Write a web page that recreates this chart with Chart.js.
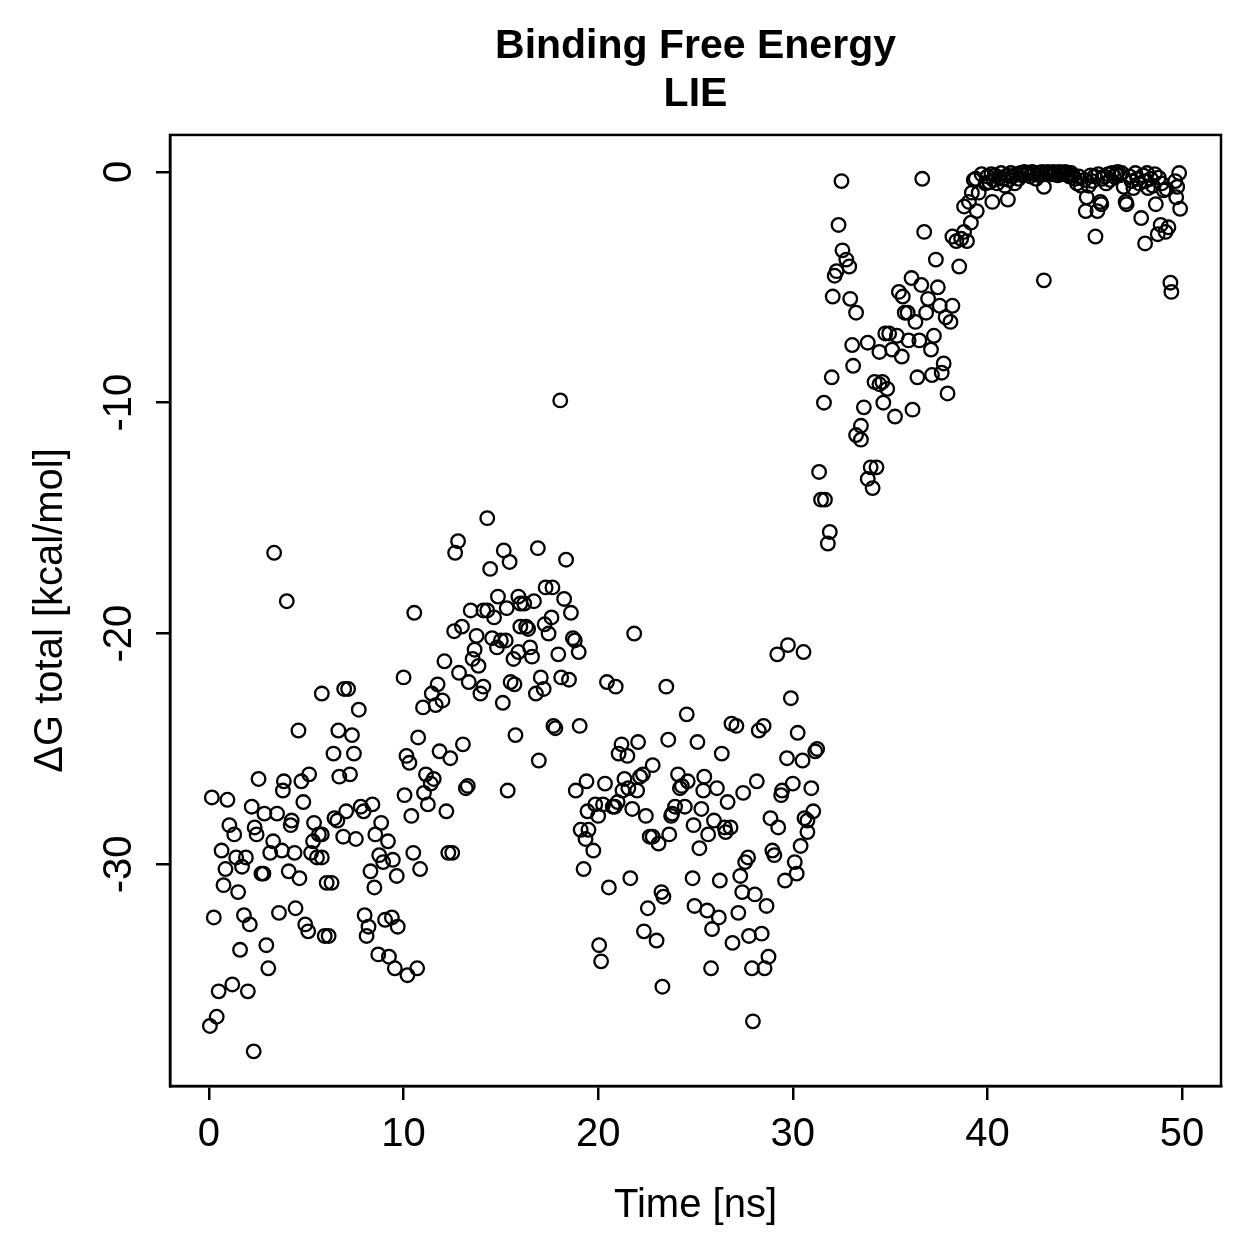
<!DOCTYPE html>
<html>
<head>
<meta charset="utf-8">
<script src="https://cdn.jsdelivr.net/npm/chart.js@4"></script>
<style>
  html, body { margin: 0; padding: 0; background: #fff; }
  #wrap { width: 1259px; height: 1259px; }
</style>
</head>
<body>
<div id="wrap"><canvas id="lieChart" width="1259" height="1259"></canvas></div>
<script>
// tick positions
const xTicks = [0, 10, 20, 30, 40, 50];
const yTicks = [0, -10, -20, -30];

// [time ns, dG kcal/mol], split by 10 ns
const seg00to10 = [
  [0.05,-37.0],[0.15,-27.1],[0.25,-32.3],[0.4,-36.6],[0.5,-35.5],[0.65,-29.4],[0.75,-30.9],[0.85,-30.2],
  [0.95,-27.2],[1.05,-28.3],[1.2,-35.2],[1.3,-28.7],[1.4,-29.7],[1.5,-31.2],[1.6,-33.7],[1.7,-30.1],
  [1.8,-32.2],[1.9,-29.7],[2.0,-35.5],[2.1,-32.6],[2.2,-27.5],[2.3,-38.1],[2.35,-28.4],[2.45,-28.7],
  [2.55,-26.3],[2.7,-30.4],[2.8,-30.4],[2.85,-27.8],[2.95,-33.5],[3.05,-34.5],[3.15,-29.5],[3.3,-29.0],
  [3.35,-16.5],[3.5,-27.8],[3.6,-32.1],[3.75,-29.4],[3.8,-26.8],[3.85,-26.4],[4.0,-18.6],[4.1,-30.3],
  [4.2,-28.3],[4.25,-28.1],[4.4,-29.5],[4.45,-31.9],[4.6,-24.2],[4.65,-30.6],[4.75,-26.4],[4.85,-27.3],
  [4.95,-32.6],[5.1,-32.9],[5.15,-26.1],[5.25,-29.5],[5.35,-29.0],[5.4,-28.2],[5.55,-29.7],[5.65,-28.7],
  [5.8,-22.6],[5.8,-28.7],[5.8,-29.7],[5.95,-33.1],[6.05,-30.8],[6.15,-33.1],[6.3,-30.8],[6.4,-25.2],
  [6.45,-28.0],[6.6,-28.1],[6.65,-24.2],[6.7,-26.2],[6.9,-28.8],[6.95,-22.4],[7.05,-27.7],[7.15,-22.4],
  [7.25,-26.1],[7.35,-24.4],[7.45,-25.2],[7.55,-28.9],[7.7,-23.3],[7.8,-27.5],[7.95,-27.7],[8.0,-32.2],
  [8.1,-33.1],[8.2,-32.7],[8.3,-30.3],[8.4,-27.4],[8.5,-31.0],[8.55,-28.7],[8.7,-33.9],[8.75,-29.6],
  [8.85,-28.2],[8.95,-29.9],[9.05,-32.4],[9.2,-29.0],[9.25,-34.0],[9.4,-32.3],[9.45,-29.8],[9.55,-34.5],
  [9.65,-30.5],[9.7,-32.7]
];
const seg10to20 = [
  [10.0,-21.9],[10.05,-27.0],[10.15,-25.3],[10.2,-34.8],[10.3,-25.6],[10.4,-27.9],[10.5,-29.5],[10.55,-19.1],
  [10.7,-34.5],[10.75,-24.5],[10.85,-30.2],[11.0,-23.2],[11.05,-26.9],[11.15,-26.1],[11.25,-27.4],[11.4,-26.5],
  [11.45,-22.6],[11.55,-26.3],[11.65,-23.1],[11.75,-22.2],[11.85,-25.1],[12.0,-22.9],[12.1,-21.2],[12.2,-27.7],
  [12.3,-29.5],[12.4,-25.4],[12.5,-29.5],[12.6,-19.9],[12.65,-16.5],[12.8,-16.0],[12.85,-21.7],[13.0,-19.7],
  [13.05,-24.8],[13.2,-26.7],[13.3,-26.6],[13.35,-22.1],[13.45,-19.0],[13.55,-21.1],[13.65,-20.7],[13.75,-20.1],
  [13.85,-21.4],[13.95,-22.6],[14.1,-19.0],[14.1,-22.3],[14.3,-15.0],[14.3,-19.0],[14.45,-17.2],[14.55,-20.2],
  [14.65,-19.3],[14.8,-20.6],[14.85,-18.4],[15.0,-20.3],[15.1,-23.0],[15.15,-16.4],[15.25,-20.3],[15.3,-18.9],
  [15.35,-26.8],[15.45,-16.9],[15.5,-22.1],[15.65,-21.1],[15.7,-22.2],[15.75,-24.4],[15.9,-18.4],[15.9,-20.8],
  [16.0,-18.7],[16.0,-19.7],[16.2,-18.7],[16.3,-19.7],[16.4,-19.8],[16.5,-20.6],[16.6,-21.0],[16.7,-18.6],
  [16.8,-22.6],[16.9,-16.3],[16.95,-25.5],[17.05,-21.9],[17.2,-22.4],[17.25,-19.6],[17.3,-18.0],[17.45,-20.0],
  [17.6,-19.3],[17.65,-18.0],[17.7,-24.0],[17.8,-24.1],[17.95,-20.9],[18.05,-9.9],[18.1,-21.9],[18.25,-18.5],
  [18.35,-16.8],[18.5,-22.0],[18.6,-19.1],[18.7,-20.2],[18.8,-20.3],[18.85,-26.8],[19.0,-20.8],[19.05,-24.0],
  [19.1,-28.5],[19.25,-30.2],[19.35,-28.9],[19.4,-26.4],[19.45,-27.7],[19.5,-28.5],[19.75,-29.4],[19.85,-27.4]
];
const seg20to30 = [
  [20.0,-27.9],[20.05,-33.5],[20.15,-34.2],[20.25,-27.4],[20.35,-26.5],[20.45,-22.1],[20.55,-31.0],[20.75,-27.5],
  [20.85,-27.5],[20.9,-22.3],[21.0,-27.3],[21.05,-25.2],[21.2,-24.8],[21.25,-26.8],[21.35,-26.3],[21.5,-25.3],
  [21.55,-26.7],[21.65,-30.6],[21.75,-27.6],[21.85,-20.0],[22.0,-26.8],[22.05,-24.7],[22.15,-26.2],[22.3,-26.1],
  [22.35,-32.9],[22.45,-27.9],[22.55,-31.9],[22.65,-28.8],[22.8,-25.7],[22.8,-28.8],[23.0,-33.3],[23.1,-29.1],
  [23.25,-31.2],[23.3,-35.3],[23.35,-31.4],[23.5,-22.3],[23.6,-24.6],[23.65,-28.7],[23.75,-27.9],[23.8,-27.8],
  [23.95,-27.5],[24.1,-26.1],[24.2,-26.7],[24.3,-26.6],[24.45,-27.5],[24.55,-23.5],[24.6,-26.4],[24.85,-30.6],
  [24.9,-28.3],[24.95,-31.8],[25.1,-24.7],[25.2,-29.3],[25.3,-27.6],[25.4,-26.8],[25.45,-26.2],[25.6,-32.0],
  [25.65,-28.7],[25.8,-34.5],[25.85,-32.8],[25.95,-28.1],[26.1,-26.7],[26.2,-32.3],[26.25,-30.7],[26.35,-25.2],
  [26.5,-28.4],[26.55,-28.6],[26.65,-27.3],[26.8,-28.4],[26.85,-23.9],[26.9,-33.4],[27.1,-24.0],[27.2,-32.1],
  [27.3,-30.5],[27.4,-31.2],[27.45,-26.9],[27.55,-29.9],[27.7,-29.7],[27.75,-33.1],[27.9,-34.5],[27.95,-36.8],
  [28.05,-31.3],[28.15,-26.4],[28.25,-24.2],[28.4,-33.0],[28.5,-24.0],[28.55,-34.5],[28.65,-31.8],[28.75,-34.0],
  [28.85,-28.0],[28.95,-29.4],[29.05,-29.6],[29.2,-20.9],[29.25,-28.4],[29.4,-27.0],[29.45,-26.8],[29.6,-30.7],
  [29.7,-25.4],[29.75,-20.5],[29.9,-22.8],[30.0,-26.5]
];
const seg30to40 = [
  [30.1,-29.9],[30.2,-30.4],[30.25,-24.3],[30.4,-29.2],[30.5,-25.5],[30.55,-20.8],[30.6,-28.0],[30.75,-28.1],
  [30.75,-28.6],[30.95,-26.7],[31.05,-27.7],[31.15,-25.1],[31.25,-25.0],[31.35,-13.0],[31.45,-14.2],[31.6,-10.0],
  [31.65,-14.2],[31.8,-16.1],[31.9,-15.6],[32.0,-8.9],[32.05,-5.4],[32.15,-4.5],[32.25,-4.3],[32.35,-2.3],
  [32.5,-0.4],[32.55,-3.4],[32.75,-3.8],[32.9,-4.1],[32.95,-5.5],[33.05,-7.5],[33.1,-8.4],[33.25,-6.1],
  [33.25,-11.4],[33.5,-11.0],[33.5,-11.6],[33.65,-10.2],[33.85,-7.4],[33.85,-13.3],[34.0,-12.8],[34.1,-13.7],
  [34.2,-9.1],[34.3,-12.8],[34.45,-7.8],[34.45,-9.2],[34.6,-9.1],[34.65,-10.0],[34.75,-7.0],[34.85,-9.4],
  [34.95,-7.0],[35.1,-7.7],[35.25,-10.6],[35.35,-7.1],[35.45,-5.2],[35.6,-8.0],[35.65,-5.4],[35.75,-6.1],
  [35.9,-6.1],[35.95,-7.3],[36.1,-4.6],[36.15,-10.3],[36.3,-6.5],[36.4,-8.9],[36.5,-7.3],[36.6,-4.9],
  [36.65,-0.3],[36.75,-2.6],[36.85,-6.1],[36.95,-5.5],[37.1,-7.7],[37.15,-8.8],[37.25,-7.1],[37.35,-3.8],
  [37.45,-5.0],[37.55,-5.8],[37.65,-8.7],[37.75,-8.3],[37.85,-6.3],[37.95,-9.6],[38.1,-6.5],[38.2,-2.8],
  [38.2,-5.8],[38.4,-3.0],[38.55,-4.1],[38.65,-2.9],[38.8,-2.6],[38.8,-1.5],[38.95,-3.0],[39.05,-1.3],
  [39.15,-2.2],[39.2,-0.9],[39.3,-0.35],[39.4,-0.3],[39.45,-1.7],[39.55,-0.9],[39.7,-0.1],[39.9,-0.5]
];
const seg40to50 = [
  [40.0,-0.2],[40.1,-0.45],[40.2,-0.1],[40.25,-1.3],[40.3,-0.35],[40.4,-0.15],[40.5,-0.5],[40.6,-0.25],
  [40.7,-0.05],[40.8,-0.3],[40.9,-0.6],[41.0,-0.15],[41.05,-1.2],[41.1,-0.35],[41.2,-0.05],[41.3,-0.2],
  [41.4,-0.5],[41.5,-0.1],[41.6,-0.3],[41.7,-0.05],[41.8,-0.15],[41.9,0.0],[42.0,-0.1],[42.1,-0.05],
  [42.2,-0.2],[42.3,0.0],[42.4,-0.1],[42.5,-0.3],[42.6,-0.05],[42.7,-0.15],[42.8,0.0],[42.9,-0.65],
  [42.9,-4.7],[43.0,-0.1],[43.1,0.0],[43.2,-0.05],[43.3,-0.1],[43.4,0.0],[43.5,-0.05],[43.6,-0.15],
  [43.7,0.0],[43.8,-0.1],[43.9,-0.05],[44.0,0.0],[44.1,-0.1],[44.2,-0.2],[44.3,-0.05],[44.4,-0.15],
  [44.5,-0.3],[44.6,-0.5],[44.7,-0.2],[44.8,-0.6],[45.0,-0.35],[45.05,-1.7],[45.1,-1.1],[45.2,-0.6],
  [45.3,-0.15],[45.4,-0.4],[45.5,-0.2],[45.55,-2.8],[45.65,-1.7],[45.7,-0.1],[45.8,-1.3],[45.85,-1.4],
  [45.9,-0.3],[46.0,-0.2],[46.1,-0.5],[46.2,-0.1],[46.3,-0.35],[46.4,-0.05],[46.5,-0.2],[46.6,-0.1],
  [46.7,0.0],[46.8,-0.15],[46.9,-0.05],[47.0,-0.65],[47.1,-1.3],[47.15,-1.4],[47.3,-0.2],[47.4,-0.4],
  [47.5,-0.7],[47.6,-0.05],[47.7,-0.3],[47.8,-0.5],[47.9,-2.0],[48.0,-0.15],[48.1,-3.1],[48.1,-0.4],
  [48.2,-0.05],[48.25,-0.7],[48.4,-0.3],[48.5,-0.6],[48.6,-0.1],[48.65,-1.4],[48.75,-2.7],[48.8,-0.25],
  [48.9,-2.3],[48.95,-0.5],[49.05,-0.8],[49.15,-2.6],[49.2,-0.75],[49.3,-2.4],[49.4,-4.8],[49.45,-5.2],
  [49.65,-0.4],[49.7,-1.1],[49.75,-0.65],[49.85,-0.05],[49.9,-1.6]
];

const allPoints = [].concat(seg00to10, seg10to20, seg20to30, seg30to40, seg40to50)
  .map(p => ({ x: p[0], y: p[1] }));

Chart.defaults.font.family = '"Liberation Sans", Arial, Helvetica, sans-serif';
Chart.defaults.color = '#000';

// box around the plot region, like R's box()
const frameBox = {
  id: 'frameBox',
  afterDraw(chart) {
    const a = chart.chartArea;
    const ctx = chart.ctx;
    ctx.save();
    ctx.strokeStyle = '#000';
    ctx.lineWidth = 2.5;
    ctx.strokeRect(a.left, a.top, a.right - a.left, a.bottom - a.top);
    ctx.restore();
  }
};

// y tick labels are rotated (parallel to the axis)
const yTickLabels = {
  id: 'yTickLabels',
  afterDraw(chart) {
    const s = chart.scales.y;
    const ctx = chart.ctx;
    ctx.save();
    ctx.fillStyle = '#000';
    ctx.font = '40px "Liberation Sans", Arial, sans-serif';
    ctx.textAlign = 'center';
    ctx.textBaseline = 'middle';
    yTicks.forEach(v => {
      ctx.save();
      ctx.translate(120, s.getPixelForValue(v));
      ctx.rotate(-Math.PI / 2);
      ctx.fillText(String(v), 0, 0);
      ctx.restore();
    });
    ctx.restore();
  }
};

const ctx = document.getElementById('lieChart').getContext('2d');
const lieChart = new Chart(ctx, {
  type: 'scatter',
  data: {
    datasets: [{
      label: 'LIE',
      data: allPoints
    }]
  },
  options: {
    responsive: false,
    animation: false,
    devicePixelRatio: 1,
    events: [],
    elements: {
      point: {
        pointStyle: 'circle',
        radius: 6.8,
        hoverRadius: 6.8,
        borderWidth: 2.3,
        borderColor: '#000',
        backgroundColor: 'rgba(0,0,0,0)'
      }
    },
    layout: { padding: { left: 0, right: 38, top: 0, bottom: 0 } },
    plugins: {
      legend: { display: false },
      tooltip: { enabled: false },
      title: {
        display: true,
        fullSize: false,
        text: ['Binding Free Energy', 'LIE'],
        color: '#000',
        font: { size: 41, weight: 'bold', lineHeight: 1.17 },
        padding: { top: 23, bottom: 16 }
      }
    },
    scales: {
      x: {
        type: 'linear',
        min: -2,
        max: 52,
        afterBuildTicks: s => { s.ticks = xTicks.map(v => ({ value: v })); },
        afterFit: s => { s.height = 173; },
        grid: { drawOnChartArea: false, drawTicks: true, tickLength: 14, color: '#000', lineWidth: 2.5 },
        border: { display: true, color: '#000', width: 2.5 },
        ticks: { color: '#000', font: { size: 40 }, padding: 11, maxRotation: 0, autoSkip: false },
        title: { display: true, text: 'Time [ns]', color: '#000', font: { size: 40 }, padding: { top: 0, bottom: 29 } }
      },
      y: {
        type: 'linear',
        min: -39.6,
        max: 1.6,
        afterBuildTicks: s => { s.ticks = yTicks.map(v => ({ value: v })); },
        afterFit: s => { s.width = 170; },
        grid: { drawOnChartArea: false, drawTicks: true, tickLength: 14, color: '#000', lineWidth: 2.5 },
        border: { display: true, color: '#000', width: 2.5 },
        ticks: { display: false },
        title: { display: true, text: 'ΔG total [kcal/mol]', color: '#000', font: { size: 40 }, padding: { top: 27, bottom: 0 } }
      }
    }
  },
  plugins: [frameBox, yTickLabels]
});
</script>
</body>
</html>
